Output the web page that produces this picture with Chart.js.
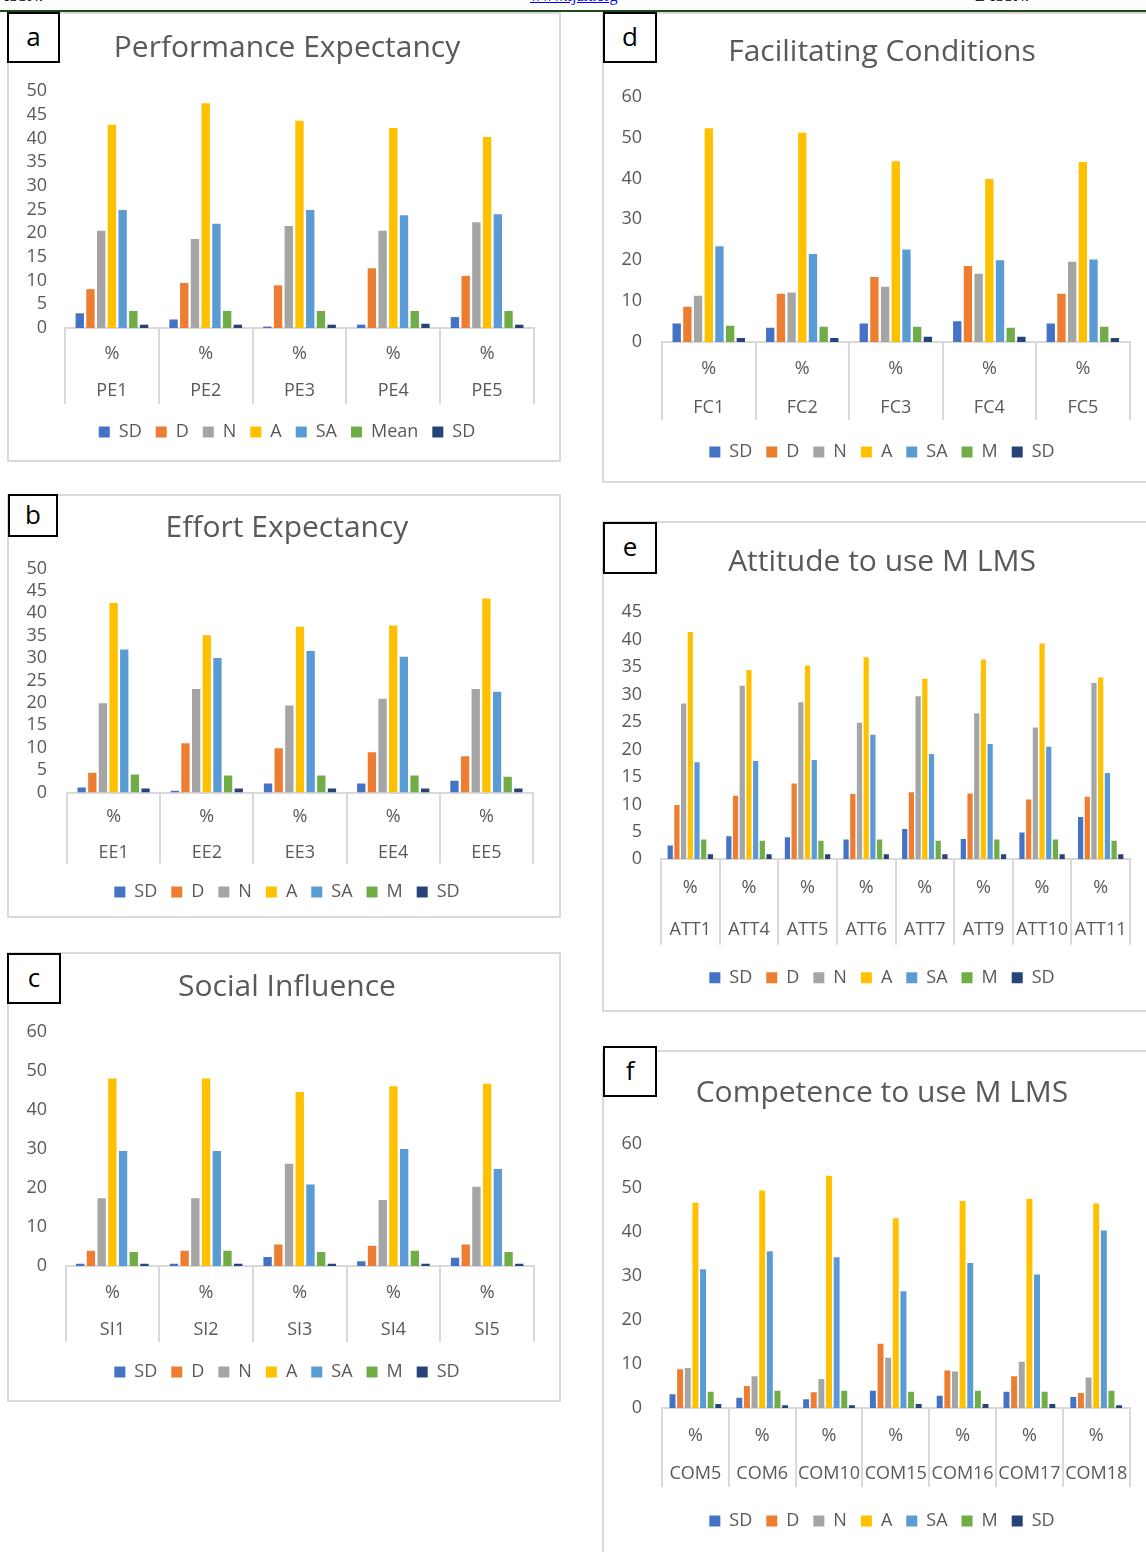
<!DOCTYPE html>
<html lang="en">
<head>
<meta charset="UTF-8">
<title>UTAUT item responses</title>
<script src="https://cdn.jsdelivr.net/npm/chart.js@4.4.1/dist/chart.umd.min.js"></script>
<style>
    body { margin: 0; width: 1146px; height: 1552px; overflow: hidden; background: #fff; position: relative; }
    .panel { position: absolute; border: 2px solid #d9d9d9; background: #fff; }
    .panel canvas { display: block; }
    .tag { position: absolute; border: 2px solid #000; background: #fff; text-align: center;
           font-family: 'Open Sans', sans-serif; font-size: 26px; color: #000; }
    .head { position: absolute; top: -12px; font-family: 'Liberation Serif', serif; font-size: 16px; line-height: 16px; }
    .rule { position: absolute; left: 0; top: 10px; width: 1146px; height: 2px; background: #1f4a1f; }
</style>
</head>
<body>
    <div class="head" style="left:4px">ISSN:</div>
    <div class="head" style="left:530px;color:#00f;text-decoration:underline">www.ijalt.org</div>
    <div class="head" style="left:975px">E-ISSN:</div>
    <div class="rule"></div>

    <div class="panel" style="left:7px;top:12px"><canvas id="chartA" width="550" height="446"></canvas></div>
    <div class="panel" style="left:7px;top:494px"><canvas id="chartB" width="550" height="420"></canvas></div>
    <div class="panel" style="left:7px;top:952px"><canvas id="chartC" width="550" height="446"></canvas></div>
    <div class="panel" style="left:602px;top:12px"><canvas id="chartD" width="550" height="467"></canvas></div>
    <div class="panel" style="left:602px;top:521px"><canvas id="chartE" width="550" height="487"></canvas></div>
    <div class="panel" style="left:602px;top:1050px"><canvas id="chartF" width="550" height="510"></canvas></div>

    <div class="tag" style="left:7px;top:12px;width:49px;height:47px;line-height:44px">a</div>
    <div class="tag" style="left:8px;top:494px;width:46px;height:39px;line-height:36px">b</div>
    <div class="tag" style="left:7px;top:953px;width:50px;height:47px;line-height:44px">c</div>
    <div class="tag" style="left:603px;top:12px;width:50px;height:47px;line-height:44px">d</div>
    <div class="tag" style="left:603px;top:522px;width:50px;height:48px;line-height:45px">e</div>
    <div class="tag" style="left:603px;top:1046px;width:50px;height:47px;line-height:44px">f</div>

<script>
    // response categories (the last SD is the standard deviation)
    const namesPE = ['SD', 'D', 'N', 'A', 'SA', 'Mean', 'SD'];
    const names = ['SD', 'D', 'N', 'A', 'SA', 'M', 'SD'];
    const seriesColors = ['#4472c4', '#ed7d31', '#a5a5a5', '#ffc000', '#5b9bd5', '#70ad47', '#264478'];

    // a - Performance Expectancy
    const peItems = ['PE1', 'PE2', 'PE3', 'PE4', 'PE5'];
    const peSD = [3.1, 1.8, 0.3, 0.7, 2.3];
    const peD = [8.2, 9.5, 9.0, 12.6, 11.0];
    const peN = [20.5, 18.8, 21.5, 20.5, 22.3];
    const peA = [42.9, 47.4, 43.7, 42.2, 40.3];
    const peSA = [24.9, 22.0, 24.9, 23.8, 24.0];
    const peMean = [3.6, 3.6, 3.6, 3.6, 3.6];
    const peStd = [0.7, 0.7, 0.7, 0.9, 0.7];

    // b - Effort Expectancy
    const eeItems = ['EE1', 'EE2', 'EE3', 'EE4', 'EE5'];
    const eeSD = [1.1, 0.4, 2.0, 2.0, 2.6];
    const eeD = [4.4, 11.0, 9.9, 9.0, 8.1];
    const eeN = [19.9, 23.1, 19.4, 20.9, 23.1];
    const eeA = [42.3, 35.1, 37.0, 37.3, 43.3];
    const eeSA = [31.9, 30.0, 31.6, 30.3, 22.5];
    const eeM = [4.0, 3.8, 3.8, 3.8, 3.5];
    const eeStd = [0.9, 0.9, 0.9, 0.9, 0.9];

    // c - Social Influence
    const siItems = ['SI1', 'SI2', 'SI3', 'SI4', 'SI5'];
    const siSD = [0.6, 0.6, 2.3, 1.2, 2.1];
    const siD = [3.9, 3.9, 5.5, 5.2, 5.5];
    const siN = [17.4, 17.4, 26.2, 16.9, 20.3];
    const siA = [48.1, 48.1, 44.6, 46.1, 46.7];
    const siSA = [29.5, 29.5, 20.9, 30.0, 24.9];
    const siM = [3.6, 3.9, 3.6, 3.9, 3.6];
    const siStd = [0.6, 0.6, 0.6, 0.6, 0.6];

    // d - Facilitating Conditions
    const fcItems = ['FC1', 'FC2', 'FC3', 'FC4', 'FC5'];
    const fcSD = [4.5, 3.5, 4.5, 5.1, 4.5];
    const fcD = [8.6, 11.8, 15.9, 18.6, 11.8];
    const fcN = [11.3, 12.1, 13.5, 16.7, 19.6];
    const fcA = [52.3, 51.2, 44.2, 39.9, 44.0];
    const fcSA = [23.4, 21.5, 22.6, 20.0, 20.2];
    const fcM = [4.0, 3.7, 3.7, 3.5, 3.7];
    const fcStd = [1.0, 1.0, 1.3, 1.3, 1.0];

    // e - Attitude to use M LMS
    const attItems = ['ATT1', 'ATT4', 'ATT5', 'ATT6', 'ATT7', 'ATT9', 'ATT10', 'ATT11'];
    const attSD = [2.5, 4.2, 4.0, 3.6, 5.5, 3.7, 4.9, 7.7];
    const attD = [9.9, 11.6, 13.8, 11.9, 12.2, 12.0, 10.9, 11.4];
    const attN = [28.4, 31.6, 28.6, 24.9, 29.7, 26.6, 24.0, 32.1];
    const attA = [41.4, 34.5, 35.3, 36.8, 32.9, 36.4, 39.3, 33.1];
    const attSA = [17.7, 17.9, 18.1, 22.7, 19.2, 21.0, 20.5, 15.7];
    const attM = [3.6, 3.4, 3.4, 3.6, 3.4, 3.6, 3.6, 3.4];
    const attStd = [0.9, 0.9, 0.9, 0.9, 0.9, 0.9, 0.9, 0.9];

    // f - Competence to use M LMS
    const comItems = ['COM5', 'COM6', 'COM10', 'COM15', 'COM16', 'COM17', 'COM18'];
    const comSD = [3.1, 2.3, 2.0, 3.9, 2.8, 3.7, 2.5];
    const comD = [8.8, 5.0, 3.6, 14.6, 8.5, 7.2, 3.4];
    const comN = [9.1, 7.2, 6.6, 11.4, 8.3, 10.5, 6.9];
    const comA = [46.6, 49.4, 52.7, 43.1, 47.0, 47.5, 46.4];
    const comSA = [31.5, 35.6, 34.2, 26.5, 32.9, 30.3, 40.3];
    const comM = [3.7, 3.9, 3.9, 3.7, 3.9, 3.7, 3.9];
    const comStd = [0.9, 0.6, 0.6, 0.9, 0.9, 0.9, 0.6];

    Chart.defaults.font.family = "'Open Sans', 'Noto Sans', sans-serif";
    Chart.defaults.color = '#595959';

    const legendPad = 14;
    const fontSize = 18;
    const titleSize = 30;
    const padLeft = 6;

    // lay: positions inside the canvas (title centre, plot top/bottom/left/right,
    // tick line length, first label offset, label line gap, legend centre)
    function makeChart(id, title, items, series, labels, yMax, yStep, lay) {
        const canvas = document.getElementById(id);
        const W = canvas.width, H = canvas.height;
        const legendTop = lay.legend - 23;
        const legendH = legendPad + fontSize + 12;
        const half = titleSize * 1.2 / 2;

        return new Chart(canvas, {
            type: 'bar',
            data: {
                labels: items.map(s => ['%', s]),
                datasets: series.map((vals, i) => ({
                    label: labels[i],
                    data: vals,
                    backgroundColor: seriesColors[i],
                    borderWidth: 0,
                    categoryPercentage: 0.8,
                    barPercentage: 0.78
                }))
            },
            options: {
                responsive: false,
                animation: false,
                layout: {
                    padding: { top: 0, left: padLeft, right: 0, bottom: H - legendTop - legendH }
                },
                plugins: {
                    title: {
                        display: true,
                        text: title,
                        color: '#595959',
                        font: { size: titleSize, weight: 'normal', lineHeight: 1.2 },
                        padding: { top: lay.title - half, bottom: lay.top - lay.title - half }
                    },
                    legend: {
                        position: 'bottom',
                        labels: { boxWidth: 11, boxHeight: 11, padding: legendPad, color: '#595959', font: { size: fontSize } }
                    },
                    tooltip: { enabled: false }
                },
                scales: {
                    x: {
                        grid: { offset: true, drawOnChartArea: false, tickLength: lay.tick, color: '#d9d9d9', lineWidth: 2 },
                        border: { color: '#d9d9d9', width: 2 },
                        ticks: {
                            autoSkip: false, maxRotation: 0, minRotation: 0,
                            padding: lay.label - lay.tick - lay.gap / 2,
                            color: '#595959',
                            font: { size: fontSize, lineHeight: lay.gap / fontSize }
                        },
                        afterFit: s => { s.height = legendTop - lay.base; }
                    },
                    y: {
                        min: 0,
                        max: yMax,
                        ticks: { stepSize: yStep, autoSkip: false, padding: lay.left - 38, color: '#595959', font: { size: fontSize } },
                        grid: { display: false, drawTicks: false },
                        border: { display: false },
                        afterFit: s => { s.width = lay.left - padLeft; }
                    },
                    // empty right-hand axis, only keeps space at the right of the plot
                    spacer: {
                        type: 'linear',
                        position: 'right',
                        grid: { display: false, drawTicks: false },
                        border: { display: false },
                        ticks: { display: false },
                        afterFit: s => { s.width = W - lay.right; }
                    }
                }
            }
        });
    }

    makeChart('chartA', 'Performance Expectancy', peItems,
        [peSD, peD, peN, peA, peSA, peMean, peStd], namesPE, 50, 5,
        { title: 34.5, top: 77, base: 312, left: 56, right: 525, tick: 76, label: 26, gap: 37, legend: 416 });

    makeChart('chartB', 'Effort Expectancy', eeItems,
        [eeSD, eeD, eeN, eeA, eeSA, eeM, eeStd], names, 50, 5,
        { title: 32.5, top: 72.5, base: 294.5, left: 58, right: 524, tick: 71, label: 24, gap: 36, legend: 394 });

    makeChart('chartC', 'Social Influence', siItems,
        [siSD, siD, siN, siA, siSA, siM, siStd], names, 60, 10,
        { title: 33.5, top: 78, base: 310, left: 56.5, right: 525, tick: 76, label: 27, gap: 37, legend: 416 });

    makeChart('chartD', 'Facilitating Conditions', fcItems,
        [fcSD, fcD, fcN, fcA, fcSA, fcM, fcStd], names, 60, 10,
        { title: 38.5, top: 82.7, base: 326, left: 58, right: 525.6, tick: 78, label: 26.7, gap: 39.3, legend: 436 });

    makeChart('chartE', 'Attitude to use M LMS', attItems,
        [attSD, attD, attN, attA, attSA, attM, attStd], names, 45, 5,
        { title: 39.7, top: 89.3, base: 334.3, left: 57, right: 526, tick: 85.4, label: 28.4, gap: 42.6, legend: 452.7 });

    makeChart('chartF', 'Competence to use M LMS', comItems,
        [comSD, comD, comN, comA, comSA, comM, comStd], names, 60, 10,
        { title: 41, top: 91.7, base: 354, left: 58, right: 525.6, tick: 79, label: 28, gap: 38.3, legend: 467 });
</script>
</body>
</html>
